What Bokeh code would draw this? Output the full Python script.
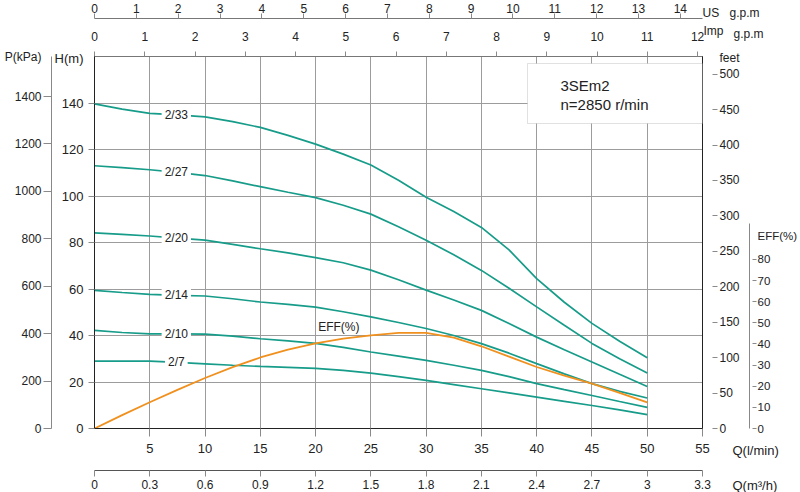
import numpy as np
from bokeh.plotting import figure
from bokeh.models import (Range1d, LinearAxis, FixedTicker, NumeralTickFormatter,
                          Label, BoxAnnotation, GridBox)
from bokeh.embed import file_html
from bokeh.resources import INLINE

# ---------------- data ----------------
flow_lpm = [0, 2.5, 5, 7.5, 10, 12.5, 15, 17.5, 20, 22.5, 25,
            27.5, 30, 32.5, 35, 37.5, 40, 42.5, 45, 47.5, 50]
head_2_33 = [139.6, 137.4, 135.5, 134.9, 134.0, 132.0, 129.5, 126.1, 122.3, 118.0, 113.3,
             106.8, 99.5, 93.3, 86.5, 76.8, 64.5, 54.3, 45.2, 37.5, 30.4]
head_2_27 = [113.0, 112.2, 111.3, 110.2, 108.8, 106.5, 104.0, 101.6, 99.3, 96.0, 92.2,
             86.8, 81.0, 74.7, 68.0, 60.3, 52.3, 44.4, 36.6, 30.0, 23.9]
head_2_20 = [84.1, 83.5, 82.8, 81.9, 81.0, 79.2, 77.3, 75.5, 73.5, 71.3, 68.1,
             64.0, 59.5, 55.3, 50.8, 45.2, 39.3, 33.9, 28.6, 23.3, 18.1]
head_2_14 = [59.4, 58.5, 57.7, 57.3, 57.0, 55.8, 54.4, 53.4, 52.2, 50.2, 48.0,
             45.6, 43.0, 40.0, 36.5, 32.4, 27.9, 23.5, 19.3, 16.0, 13.1]
head_2_10 = [42.2, 41.3, 40.7, 40.7, 40.6, 39.7, 38.6, 37.7, 36.6, 34.9, 32.9,
             31.1, 29.3, 27.2, 25.0, 22.3, 19.3, 16.7, 14.2, 11.6, 9.1]
head_2_7 = [29.0, 29.0, 29.0, 28.4, 27.8, 27.2, 26.7, 26.3, 25.9, 25.0, 23.8,
            22.3, 20.7, 18.9, 17.1, 15.3, 13.5, 11.7, 9.9, 8.0, 6.0]
eff_pct = [0, 6.3, 12.4, 18.3, 23.9, 29.0, 33.6, 37.3, 40.3, 42.5, 44.1,
           45.2, 45.2, 43.0, 38.9, 34.0, 29.1, 25.0, 21.2, 16.9, 12.4]
curve_names = ["2/33", "2/27", "2/20", "2/14", "2/10", "2/7"]

lpm_ticks = [5, 10, 15, 20, 25, 30, 35, 40, 45, 50, 55]
m3h_ticks = [0, 0.3, 0.6, 0.9, 1.2, 1.5, 1.8, 2.1, 2.4, 2.7, 3.0, 3.3]
us_gpm_ticks = [0, 1, 2, 3, 4, 5, 6, 7, 8, 9, 10, 11, 12, 13, 14]
imp_gpm_ticks = [0, 1, 2, 3, 4, 5, 6, 7, 8, 9, 10, 11, 12]
head_ticks = [0, 20, 40, 60, 80, 100, 120, 140]
kpa_ticks = [0, 200, 400, 600, 800, 1000, 1200, 1400]
feet_ticks = [0, 50, 100, 150, 200, 250, 300, 350, 400, 450, 500]
eff_ticks = [0, 10, 20, 30, 40, 50, 60, 70, 80]

Q_MAX = 55.0
H_MAX = 160.0
EFF_TOP = 176.0

# unit titles sitting at the top of the vertical axes (value on that axis)
head_title = ("H(m)", 159)
kpa_title = ("P(kPa)", 1565)
feet_title = ("feet\u00a0\u00a0", 523)
eff_title = ("EFF(%)", 91)

# ---------------- styling ----------------
FONT = "Liberation Sans"
TEAL = "#179c8a"
ORANGE = "#f0901e"
TXT = "#222222"
W, H = 800, 492

p = figure(width=W, height=H, output_backend="svg", toolbar_location=None,
           x_range=Range1d(0, Q_MAX), y_range=Range1d(0, H_MAX),
           min_border_left=94, min_border_right=98, min_border_top=56,
           min_border_bottom=64)
p.background_fill_color = "white"
p.border_fill_color = "white"
p.outline_line_color = "#555555"
p.outline_line_width = 1

p.extra_x_ranges = {
    "m3h": Range1d(0, Q_MAX * 0.06),
    "us": Range1d(0, Q_MAX / 3.78541),
    "imp": Range1d(0, Q_MAX / 4.54609),
}
p.extra_y_ranges = {
    "kpa": Range1d(0, H_MAX * 9.80665),
    "ft": Range1d(0, H_MAX * 3.28084),
    "eff": Range1d(0, EFF_TOP),
}


def style_axis(ax, ticks, size="13px", line_color="#444444", tick_color="#8a8a8a",
               tin=0, tout=7, standoff=5):
    ax.ticker = FixedTicker(ticks=ticks)
    ax.minor_tick_line_color = None
    ax.major_tick_in = tin
    ax.major_tick_out = tout
    ax.major_label_standoff = standoff
    ax.major_label_text_font = FONT
    ax.major_label_text_font_size = size
    ax.major_label_text_color = TXT
    ax.axis_line_color = line_color
    ax.major_tick_line_color = tick_color


def titled_axis(ax, ticks, title, size, line_color, tin, tout, standoff):
    """vertical axis whose unit title is drawn as the label of an extra tick"""
    text, pos = title
    ax.ticker = FixedTicker(ticks=ticks + [pos], minor_ticks=ticks)
    ax.major_label_overrides = {pos: text}
    ax.major_tick_line_color = None
    ax.major_tick_in = 0
    ax.major_tick_out = tout
    ax.minor_tick_line_color = "#8a8a8a"
    ax.minor_tick_in = tin
    ax.minor_tick_out = tout
    ax.major_label_standoff = standoff
    ax.major_label_text_font = FONT
    ax.major_label_text_font_size = size
    ax.major_label_text_color = TXT
    ax.axis_line_color = line_color


def pad_axis(ax, standoff, size="5px"):
    ax.axis_label = " "
    ax.axis_label_text_font_size = size
    ax.axis_label_standoff = standoff


# bottom: Q (l/min) main axis, Q (m3/h) outer
xa = p.xaxis[0]
style_axis(xa, lpm_ticks, size="13px", line_color="#222222", tout=8, standoff=7)
pad_axis(xa, 6)

m3h_axis = LinearAxis(x_range_name="m3h")
style_axis(m3h_axis, m3h_ticks, size="12px", line_color="#555555", tout=6, standoff=3)
m3h_axis.formatter = NumeralTickFormatter(format="0.[0]")
p.add_layout(m3h_axis, "below")

# left: H (m) main axis, P (kPa) outer
ya = p.yaxis[0]
titled_axis(ya, head_ticks, head_title, "13px", "#222222", 0, 6, 5)

kpa_axis = LinearAxis(y_range_name="kpa")
titled_axis(kpa_axis, kpa_ticks, kpa_title, "12px", "#888888", 0, 8, 2)
p.add_layout(kpa_axis, "left")

# right: feet, then EFF
ft_axis = LinearAxis(y_range_name="ft")
titled_axis(ft_axis, feet_ticks, feet_title, "12px", "#222222", -10, 15, 2)
p.add_layout(ft_axis, "right")

eff_axis = LinearAxis(y_range_name="eff", bounds=(0, 97))
titled_axis(eff_axis, eff_ticks, eff_title, "11.5px", "#888888", -3, 7, 1)
p.add_layout(eff_axis, "right")

# top: Imp g.p.m (inner), US g.p.m (outer)
imp_axis = LinearAxis(x_range_name="imp")
style_axis(imp_axis, imp_gpm_ticks, size="12px", line_color="#777777", tout=5, standoff=11)
pad_axis(imp_axis, 1)
p.add_layout(imp_axis, "above")

us_axis = LinearAxis(x_range_name="us")
style_axis(us_axis, us_gpm_ticks, size="12px", line_color="#777777", tout=5, standoff=1)
p.add_layout(us_axis, "above")

# grid
p.xgrid.ticker = FixedTicker(ticks=lpm_ticks)
p.ygrid.ticker = FixedTicker(ticks=head_ticks[1:])
for g in (p.xgrid, p.ygrid):
    g.grid_line_color = "#9c9c9c"
    g.grid_line_width = 1

# ---------------- curves ----------------
heads = [head_2_33, head_2_27, head_2_20, head_2_14, head_2_10, head_2_7]
for h in heads:
    p.line(flow_lpm, h, line_color=TEAL, line_width=1.7)

p.line(flow_lpm, eff_pct, y_range_name="eff", line_color=ORANGE, line_width=1.8)

# curve labels (white background makes the gap in the line)
label_q = 7.4
for name, h in zip(curve_names, heads):
    yv = float(np.interp(label_q, flow_lpm, h))
    p.add_layout(Label(x=label_q, y=yv, text=name, text_font=FONT,
                       text_font_size="12px", text_color=TXT,
                       text_align="center", text_baseline="middle",
                       background_fill_color="white", padding=3))

eff_label_q = 22.1
p.add_layout(Label(x=eff_label_q, y=float(np.interp(eff_label_q, flow_lpm, eff_pct)),
                   y_range_name="eff", y_offset=12, text="EFF(%)", text_font=FONT,
                   text_font_size="12px", text_color=TXT, text_align="center",
                   text_baseline="middle"))

# info box (screen units relative to the frame)
p.add_layout(BoxAnnotation(left=433, right=608, bottom=305, top=365,
                           left_units="screen", right_units="screen",
                           bottom_units="screen", top_units="screen",
                           fill_color="white", fill_alpha=1.0,
                           line_color="#9a9a9a", line_width=1))
for txt, sy in (("3SEm2", 343), ("n=2850 r/min", 324)):
    p.add_layout(Label(x=466, y=sy, x_units="screen", y_units="screen", text=txt,
                       text_font=FONT, text_font_size="15px", text_color=TXT,
                       text_align="left", text_baseline="middle"))

# ---------------- overlay for the unit titles at the axis ends ----------------
ov = figure(width=W, height=H, output_backend="svg", toolbar_location=None,
            x_range=Range1d(0, W), y_range=Range1d(H, 0),
            x_axis_location=None, y_axis_location=None, min_border=0)
if "frame_align" in ov.properties():
    ov.frame_align = False
ov.grid.visible = False
ov.outline_line_color = None
ov.background_fill_alpha = 0
ov.border_fill_alpha = 0

corner_titles = [
    ("US", 702, 12, "12px"),
    ("g.p.m", 729, 12, "12px"),
    ("Imp", 703, 30, "12px"),
    ("g.p.m", 733, 33, "12px"),
    ("Q(l/min)", 732, 450, "13px"),
    ("Q(m³/h)", 732, 485, "13px"),
]
for txt, cx, cy, fs in corner_titles:
    ov.add_layout(Label(x=cx, y=cy, text=txt, text_font=FONT, text_font_size=fs,
                        text_color=TXT, text_align="left", text_baseline="middle"))

layout = GridBox(children=[(p, 0, 0), (ov, 0, 0)])
open("out.html", "w").write(file_html(layout, INLINE))
